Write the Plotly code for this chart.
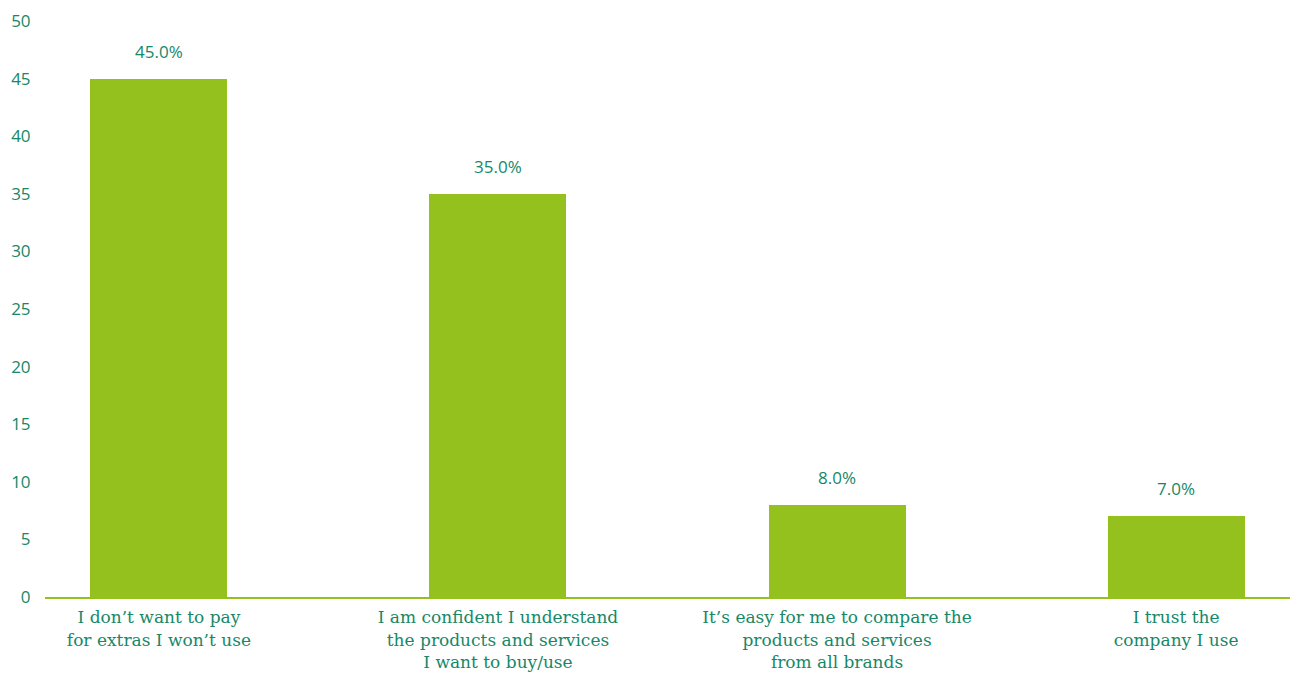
import plotly.graph_objects as go

categories = [
    "I don’t want to pay<br>for extras I won’t use",
    "I am confident I understand<br>the products and services<br>I want to buy/use",
    "It’s easy for me to compare the<br>products and services<br>from all brands",
    "I trust the<br>company I use",
]
values = [45.0, 35.0, 8.0, 7.0]
y_ticks = [0, 5, 10, 15, 20, 25, 30, 35, 40, 45, 50]

BAR = "#95c11f"
TEXT = "#168868"

fig = go.Figure()
fig.add_trace(go.Bar(
    x=list(range(len(categories))),
    y=values,
    marker=dict(color=BAR, line=dict(width=0)),
    width=0.404,
    hoverinfo="skip",
))

for i, v in enumerate(values):
    fig.add_annotation(
        x=i, y=v, text=f"{v:.1f}%", showarrow=False,
        yanchor="bottom", yshift=14,
        font=dict(family="Open Sans", size=17, color=TEXT),
    )

fig.update_layout(
    width=1293, height=673,
    margin=dict(l=45, r=3, t=21, b=76),
    paper_bgcolor="white", plot_bgcolor="white",
    showlegend=False,
    bargap=0,
)
fig.update_xaxes(
    range=[-0.336, 3.336],
    tickmode="array",
    tickvals=list(range(len(categories))),
    ticktext=categories,
    tickfont=dict(family="DejaVu Serif", size=17, color=TEXT),
    showgrid=False, zeroline=False,
    showline=True, linecolor=BAR, linewidth=2,
    ticks="outside", ticklen=4, tickcolor="rgba(0,0,0,0)",
    automargin=False,
    fixedrange=True,
)
fig.update_yaxes(
    range=[0, 50],
    tickmode="array", tickvals=y_ticks,
    tickfont=dict(family="Open Sans", size=17, color=TEXT),
    showgrid=False, zeroline=False, showline=False,
    ticks="outside", ticklen=10, tickcolor="rgba(0,0,0,0)",
    automargin=False,
    fixedrange=True,
)

fig.write_html("out.html")
